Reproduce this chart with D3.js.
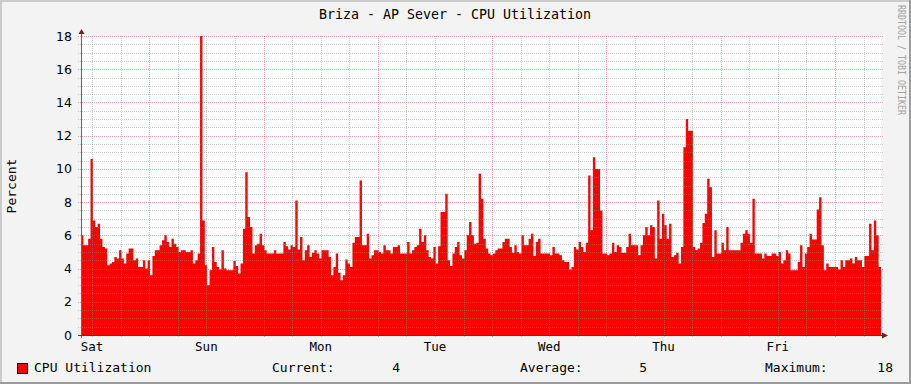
<!DOCTYPE html>
<html lang="en">
    <head>
        <meta charset="utf-8">
        <title>Briza - AP Sever - CPU Utilization</title>
        <script src="https://d3js.org/d3.v7.min.js"></script>
        <style type="text/css">
        body {
            margin: 0;
            background-color: #f3f3f3;
        }
        svg {
            display: block;
        }
        .mono {
            font-family: "DejaVu Sans Mono", monospace;
        }
        </style>
    </head>
    <body>
        <script>
        // half-hour samples, starting Sat 09:40
        var startTime = Date.UTC(2011, 0, 1, 9, 40);
        var stepMinutes = 30;
        var cpu = [
            6.0, 5.4, 5.4, 5.8, 10.6, 6.9, 6.5, 6.7, 5.8, 5.3,
            5.2, 4.2, 4.3, 4.4, 4.7, 4.6, 5.1, 4.6, 4.3, 4.9,
            5.2, 5.2, 4.5, 4.6, 4.1, 4.1, 4.5, 4.0, 4.5, 3.6,
            4.75, 5.1, 5.1, 5.4, 5.7, 6.0, 5.6, 5.3, 5.8, 5.5,
            5.3, 5.0, 5.1, 5.1, 5.0, 5.0, 5.1, 4.3, 4.5, 4.9,
            18.0, 6.9, 4.2, 3.0, 3.9, 5.3, 4.4, 4.1, 3.95, 5.1,
            4.0, 3.9, 3.9, 3.9, 4.45, 4.15, 3.7, 4.3, 6.4, 9.8,
            7.1, 6.5, 4.9, 5.4, 5.5, 6.1, 5.4, 5.1, 4.9, 4.9,
            4.9, 5.1, 4.9, 4.9, 4.9, 5.6, 5.35, 5.15, 5.4, 5.3,
            8.1, 5.15, 5.9, 4.5, 5.1, 5.4, 4.7, 4.95, 5.1, 4.9,
            4.6, 5.1, 5.1, 5.1, 4.7, 3.6, 4.1, 4.9, 3.75, 3.3,
            3.6, 4.55, 4.3, 4.1, 5.55, 5.9, 5.9, 9.3, 5.4, 5.4,
            6.1, 4.6, 4.8, 5.1, 5.1, 5.0, 4.9, 5.4, 5.1, 5.1,
            4.9, 5.3, 5.3, 5.4, 4.9, 4.9, 4.9, 5.6, 4.9, 5.1,
            5.3, 5.4, 6.4, 5.6, 6.0, 5.1, 4.7, 4.6, 5.3, 4.3,
            5.35, 7.4, 7.4, 8.5, 4.5, 4.15, 4.9, 5.3, 5.6, 4.8,
            4.6, 5.1, 6.0, 6.8, 6.0, 5.5, 5.55, 9.7, 8.2, 5.8,
            5.2, 4.9, 4.8, 4.9, 5.1, 5.2, 5.2, 5.6, 5.8, 5.8,
            5.3, 4.95, 5.4, 5.0, 4.9, 6.0, 5.4, 5.4, 5.8, 6.1,
            4.75, 5.6, 5.8, 4.9, 4.9, 4.9, 4.9, 4.8, 5.3, 4.9,
            4.9, 4.8, 4.5, 4.4, 4.4, 3.95, 4.1, 5.3, 5.15, 5.6,
            5.3, 5.0, 5.55, 9.6, 6.3, 10.7, 10.0, 10.0, 7.5, 4.9,
            4.9, 4.8, 4.9, 5.55, 5.0, 5.4, 5.3, 4.95, 4.95, 5.3,
            6.1, 5.4, 5.4, 5.4, 4.8, 5.4, 6.0, 6.5, 6.0, 6.6,
            6.5, 4.6, 8.1, 5.8, 7.3, 6.6, 5.8, 6.7, 4.7, 4.8,
            4.95, 4.3, 5.3, 11.3, 13.0, 12.3, 12.3, 5.3, 5.1, 5.2,
            5.55, 6.75, 7.3, 9.4, 8.9, 4.7, 6.3, 4.9, 4.9, 5.55,
            5.1, 6.5, 5.1, 5.1, 5.1, 5.1, 5.1, 5.55, 6.1, 6.3,
            6.1, 5.55, 8.2, 4.9, 4.9, 4.9, 4.6, 4.9, 4.75, 4.75,
            4.9, 4.9, 4.75, 5.0, 4.3, 4.5, 5.1, 4.9, 3.9, 3.9,
            3.9, 4.4, 5.4, 4.1, 4.9, 5.3, 6.1, 5.75, 5.75, 7.55,
            8.3, 5.4, 3.9, 4.3, 4.1, 4.1, 4.1, 4.1, 3.95, 4.5,
            4.1, 4.5, 4.5, 4.6, 4.3, 4.7, 4.5, 4.5, 4.1, 4.75,
            4.75, 6.7, 5.1, 6.9, 6.0, 4.1
        ];
        var yMax = 18;
        var title = "Briza - AP Sever - CPU Utilization";
        var seriesName = "CPU Utilization";

        var width = 911,
            height = 384,
            plotLeft = 81, plotRight = 881, plotTop = 36, plotBottom = 335;

        var start = new Date(startTime),
            end = d3.utcDay.offset(start, 7);

        var points = cpu.map(function(v, i) {
            return { t: d3.utcMinute.offset(start, i * stepMinutes), v: v };
        });
        points.push({ t: end, v: cpu[cpu.length - 1] });

        var x = d3.scaleUtc().domain([start, end]).range([plotLeft, plotRight]);
        var y = d3.scaleLinear().domain([0, yMax]).range([plotBottom, plotTop]);

        var svg = d3.select("body").append("svg")
            .attr("width", width)
            .attr("height", height);

        // background + 3d frame
        svg.append("rect").attr("width", width).attr("height", height).attr("fill", "#f3f3f3");
        svg.append("rect").attr("x", 0).attr("y", 0).attr("width", width).attr("height", 2).attr("fill", "#cbcbcb");
        svg.append("rect").attr("x", 0).attr("y", 0).attr("width", 2).attr("height", height).attr("fill", "#cbcbcb");
        svg.append("rect").attr("x", 0).attr("y", height - 2).attr("width", width).attr("height", 2).attr("fill", "#9b9b9b");
        svg.append("rect").attr("x", width - 2).attr("y", 0).attr("width", 2).attr("height", height).attr("fill", "#9b9b9b");

        svg.append("rect")
            .attr("x", plotLeft).attr("y", plotTop)
            .attr("width", plotRight - plotLeft).attr("height", plotBottom - plotTop)
            .attr("fill", "white");

        var area = d3.area()
            .curve(d3.curveStepAfter)
            .x(function(d) { return x(d.t); })
            .y0(y(0))
            .y1(function(d) { return y(d.v); });

        svg.append("path")
            .datum(points)
            .attr("fill", "#ff0000")
            .attr("d", area);

        // grid
        var minorGray = "rgba(143,143,143,0.42)",
            majorRed = "rgba(222,80,80,0.5)";

        var grid = svg.append("g").attr("shape-rendering", "crispEdges");

        y.ticks(36).forEach(function(v) {
            var major = Math.abs(v % 2) < 1e-9;
            var py = Math.round(y(v)) + 0.5;
            grid.append("line")
                .attr("x1", plotLeft - 3).attr("x2", plotRight + 3)
                .attr("y1", py).attr("y2", py)
                .attr("stroke", major ? majorRed : minorGray)
                .attr("stroke-dasharray", "1,1");
        });

        d3.utcHour.every(6).range(start, end).forEach(function(t) {
            var major = t.getUTCHours() === 0;
            var px = Math.round(x(t)) + 0.5;
            if (px <= plotLeft + 1) return;
            grid.append("line")
                .attr("x1", px).attr("x2", px)
                .attr("y1", plotTop).attr("y2", plotBottom + 3)
                .attr("stroke", major ? majorRed : minorGray)
                .attr("stroke-dasharray", "1,1");
        });

        // axes
        svg.append("line")
            .attr("x1", plotLeft + 0.5).attr("x2", plotLeft + 0.5)
            .attr("y1", plotTop - 2).attr("y2", plotBottom + 3)
            .attr("stroke", "#666").attr("shape-rendering", "crispEdges");
        svg.append("line")
            .attr("x1", plotLeft - 3).attr("x2", plotRight + 2)
            .attr("y1", plotBottom + 0.5).attr("y2", plotBottom + 0.5)
            .attr("stroke", "#7a2a2a").attr("shape-rendering", "crispEdges");
        svg.append("path")
            .attr("d", "M" + (plotLeft - 2.5) + "," + (plotTop - 2) + "L" + (plotLeft + 3.5) + "," + (plotTop - 2) + "L" + (plotLeft + 0.5) + "," + (plotTop - 7) + "Z")
            .attr("fill", "#7a1a1a");
        svg.append("path")
            .attr("d", "M" + (plotRight + 1) + "," + (plotBottom - 2.5) + "L" + (plotRight + 1) + "," + (plotBottom + 3.5) + "L" + (plotRight + 7) + "," + (plotBottom + 0.5) + "Z")
            .attr("fill", "#7a1a1a");

        // y tick labels
        svg.append("g").selectAll("text")
            .data(y.ticks(9))
            .enter().append("text")
            .attr("x", 72)
            .attr("y", function(d) { return y(d); })
            .attr("dy", "0.36em")
            .attr("text-anchor", "end")
            .attr("font-family", "DejaVu Sans, sans-serif")
            .attr("font-size", "12.5px")
            .attr("fill", "#000")
            .text(function(d) { return d; });

        // day labels at noon
        var noons = d3.utcDay.range(d3.utcDay.offset(start, -1), end)
            .map(function(d) { return d3.utcHour.offset(d, 12); })
            .filter(function(d) { return d >= start && d <= end; });

        svg.append("g").selectAll("text")
            .data(noons)
            .enter().append("text")
            .attr("class", "mono")
            .attr("x", function(d) { return x(d); })
            .attr("y", 351)
            .attr("text-anchor", "middle")
            .attr("font-size", "12.5px")
            .text(d3.utcFormat("%a"));

        // title
        svg.append("text")
            .attr("class", "mono")
            .attr("x", 455)
            .attr("y", 19)
            .attr("text-anchor", "middle")
            .attr("font-size", "13.3px")
            .text(title);

        svg.append("text")
            .attr("class", "mono")
            .attr("transform", "translate(16,186) rotate(-90)")
            .attr("text-anchor", "middle")
            .attr("font-size", "13px")
            .text("Percent");

        svg.append("text")
            .attr("class", "mono")
            .attr("transform", "translate(898,5) rotate(90)")
            .attr("font-size", "10.5px")
            .attr("textLength", 110)
            .attr("lengthAdjust", "spacingAndGlyphs")
            .attr("fill", "#a3a3a3")
            .text("RRDTOOL / TOBI OETIKER");

        // legend
        var fmt = d3.format(".0f");
        var legendY = 372;
        svg.append("rect")
            .attr("x", 17.5).attr("y", 363.5)
            .attr("width", 10).attr("height", 10)
            .attr("fill", "#ff0000").attr("stroke", "#000");

        var legend = [
            { x: 34, anchor: "start", text: seriesName },
            { x: 272, anchor: "start", text: "Current:" },
            { x: 400, anchor: "end", text: fmt(cpu[cpu.length - 1]) },
            { x: 520, anchor: "start", text: "Average:" },
            { x: 647, anchor: "end", text: fmt(d3.mean(cpu)) },
            { x: 765, anchor: "start", text: "Maximum:" },
            { x: 893, anchor: "end", text: fmt(d3.max(cpu)) }
        ];
        svg.append("g").selectAll("text")
            .data(legend)
            .enter().append("text")
            .attr("class", "mono")
            .attr("x", function(d) { return d.x; })
            .attr("y", legendY)
            .attr("text-anchor", function(d) { return d.anchor; })
            .attr("font-size", "13px")
            .text(function(d) { return d.text; });
        </script>
    </body>
</html>
